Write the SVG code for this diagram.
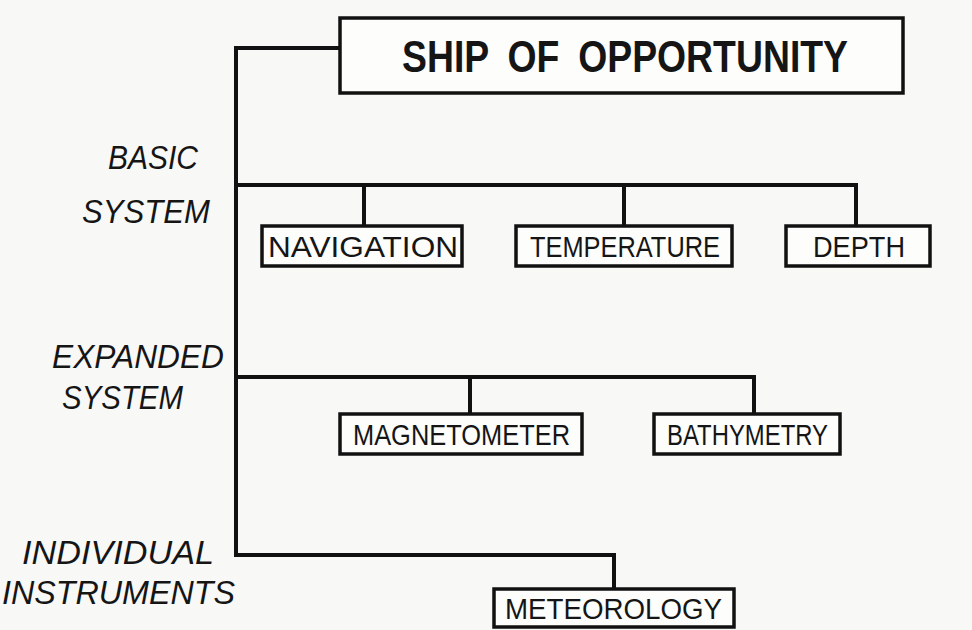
<svg xmlns="http://www.w3.org/2000/svg" width="972" height="630" viewBox="0 0 972 630">
<style>
.bg{fill:#f8f8f6}
.box{fill:#fdfdfc;stroke:#111;stroke-width:3.5}
.ln{fill:none;stroke:#111;stroke-width:4;stroke-linejoin:miter;stroke-linecap:square}
.t{font-family:"Liberation Sans",Arial,sans-serif;font-size:29px;fill:#151515}
.title{font-family:"Liberation Sans",Arial,sans-serif;font-size:44px;font-weight:bold;fill:#151515;word-spacing:10px}
.lab{font-family:"Liberation Sans",Arial,sans-serif;font-size:33px;font-style:italic;fill:#151515}
</style>
<rect class="bg" x="0" y="0" width="972" height="630"/>
<g id="connectors">
<path class="ln" d="M340 48 H236 V555 H614 V590"/>
<path class="ln" d="M236 185 H856 V226 M364 185 V226 M624 185 V226"/>
<path class="ln" d="M236 377 H754 V414 M470 377 V414"/>
</g>
<g id="ship">
<rect class="box" x="340" y="18" width="563" height="75"/>
<text class="title" x="402" y="72" textLength="446" lengthAdjust="spacingAndGlyphs">SHIP OF OPPORTUNITY</text>
</g>
<g id="labels">
<text class="lab" x="108" y="169" textLength="90" lengthAdjust="spacingAndGlyphs">BASIC</text>
<text class="lab" x="82" y="223" textLength="128" lengthAdjust="spacingAndGlyphs">SYSTEM</text>
<text class="lab" x="52" y="368" textLength="172" lengthAdjust="spacingAndGlyphs">EXPANDED</text>
<text class="lab" x="62" y="409" textLength="121" lengthAdjust="spacingAndGlyphs">SYSTEM</text>
<text class="lab" x="22" y="564" textLength="192" lengthAdjust="spacingAndGlyphs">INDIVIDUAL</text>
<text class="lab" x="2" y="604" textLength="233" lengthAdjust="spacingAndGlyphs">INSTRUMENTS</text>
</g>
<g id="navigation">
<rect class="box" x="262" y="226" width="200" height="40"/>
<text class="t" x="268" y="257" textLength="190" lengthAdjust="spacingAndGlyphs">NAVIGATION</text>
</g>
<g id="temperature">
<rect class="box" x="516" y="226" width="216" height="40"/>
<text class="t" x="530" y="257" textLength="190" lengthAdjust="spacingAndGlyphs">TEMPERATURE</text>
</g>
<g id="depth">
<rect class="box" x="786" y="226" width="144" height="40"/>
<text class="t" x="813" y="257" textLength="92" lengthAdjust="spacingAndGlyphs">DEPTH</text>
</g>
<g id="magnetometer">
<rect class="box" x="340" y="414" width="242" height="40"/>
<text class="t" x="353" y="445" textLength="217" lengthAdjust="spacingAndGlyphs">MAGNETOMETER</text>
</g>
<g id="bathymetry">
<rect class="box" x="654" y="414" width="186" height="40"/>
<text class="t" x="667" y="445" textLength="161" lengthAdjust="spacingAndGlyphs">BATHYMETRY</text>
</g>
<g id="meteorology">
<rect class="box" x="494" y="589" width="240" height="38"/>
<text class="t" x="505" y="619" textLength="217" lengthAdjust="spacingAndGlyphs">METEOROLOGY</text>
</g>
</svg>
